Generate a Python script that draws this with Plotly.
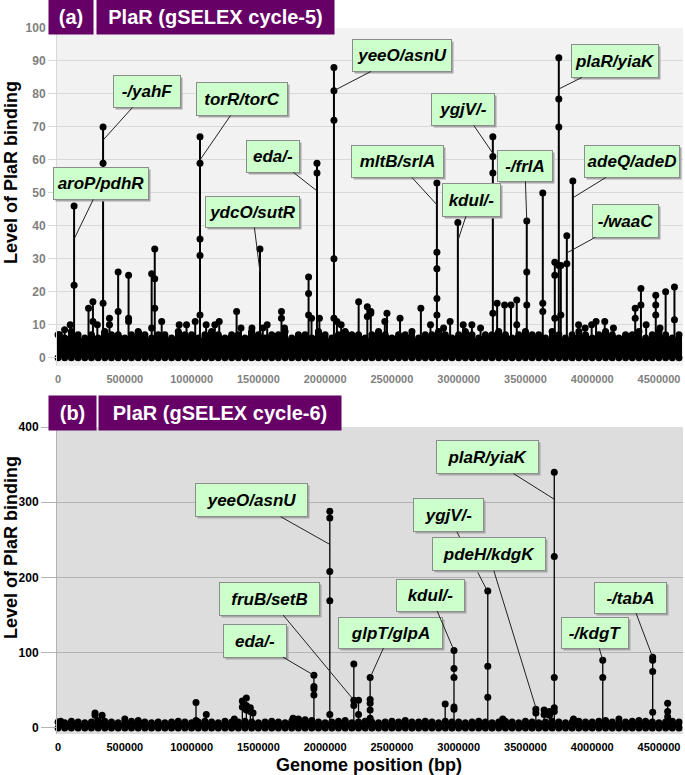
import plotly.graph_objects as go

# 50 kb genome bins (kb) for the low background signal
bins_kb = [0, 50, 100, 150, 200, 250, 300, 350, 400, 450,
           500, 550, 600, 650, 700, 750, 800, 850, 900, 950,
           1000, 1050, 1100, 1150, 1200, 1250, 1300, 1350, 1400, 1450,
           1500, 1550, 1600, 1650, 1700, 1750, 1800, 1850, 1900, 1950,
           2000, 2050, 2100, 2150, 2200, 2250, 2300, 2350, 2400, 2450,
           2500, 2550, 2600, 2650, 2700, 2750, 2800, 2850, 2900, 2950,
           3000, 3050, 3100, 3150, 3200, 3250, 3300, 3350, 3400, 3450,
           3500, 3550, 3600, 3650, 3700, 3750, 3800, 3850, 3900, 3950,
           4000, 4050, 4100, 4150, 4200, 4250, 4300, 4350, 4400, 4450,
           4500, 4550, 4600, 4650]

# (a) gSELEX cycle-5
a_band = [7, 6, 8, 7, 6, 7, 6, 8, 7, 7,
          6, 7, 8, 7, 6, 7, 7, 6, 8, 7,
          7, 6, 7, 8, 7, 6, 7, 7, 6, 8,
          7, 6, 7, 7, 8, 6, 7, 7, 6, 8,
          7, 6, 7, 8, 7, 7, 6, 7, 8, 7,
          6, 7, 7, 8, 6, 7, 7, 8, 7, 6,
          7, 8, 7, 6, 7, 7, 8, 7, 6, 7,
          8, 7, 7, 6, 8, 7, 6, 7, 8, 7,
          6, 7, 8, 7, 6, 7, 7, 8, 6, 7,
          8, 7, 6, 7]

a_pos = [10000, 49000, 91000, 120000, 120000, 228000, 261000, 261000, 294000,
         337000, 337000, 337000, 385000, 385000, 450000, 450000,
         528000, 528000, 528000, 701000, 701000, 724000, 724000, 724000,
         776000, 907000, 962000, 1027000,
         1063000, 1063000, 1063000, 1063000, 1063000,
         1109000, 1174000, 1207000, 1337000, 1370000, 1452000, 1512000,
         1533000, 1566000, 1673000, 1673000, 1696000,
         1876000, 1876000, 1876000, 1898000, 1939000, 1939000, 1957000,
         2066000, 2066000, 2066000, 2066000, 2066000,
         2088000, 2120000, 2251000, 2316000, 2316000, 2342000, 2342000,
         2447000, 2463000, 2561000, 2717000, 2789000,
         2837000, 2837000, 2837000, 2837000, 2837000,
         2887000, 2936000, 2994000, 3034000, 3099000, 3164000,
         3256000, 3256000, 3256000, 3256000,
         3288000, 3344000, 3392000, 3435000, 3435000,
         3510000, 3510000, 3510000, 3630000, 3630000, 3630000,
         3720000, 3720000, 3720000, 3750000, 3750000, 3750000, 3750000,
         3765000, 3765000, 3810000, 3810000, 3855000,
         3898000, 3947000, 3996000, 4029000, 4094000, 4159000,
         4322000, 4322000, 4365000, 4365000, 4404000,
         4476000, 4476000, 4476000, 4508000, 4550000, 4616000, 4616000]
a_val = [7, 8.5, 10, 46, 22, 15, 17, 11, 10,
         70, 59, 16.5, 12, 10, 26, 14,
         25, 12, 11, 25.5, 9, 33, 24, 15,
         11, 10, 10, 11,
         67, 59, 36, 31, 13,
         10, 10, 11, 14, 9, 9, 33,
         9, 10, 14, 12, 9,
         24.5, 19.5, 13, 12, 59, 56, 12,
         88, 81, 72, 30, 12,
         11, 10, 17, 15.5, 12.5, 14, 13.5,
         11, 13.5, 12, 15, 10,
         53, 32, 27, 18, 13,
         9, 11, 41, 10, 10, 9,
         67, 61, 56, 13.5,
         16.5, 16, 16, 17.5, 10,
         41.5, 26, 16, 50, 16.5, 14,
         29, 25, 12, 91, 78.5, 70, 28,
         28, 13, 37, 28.5, 53.6,
         10, 9, 10, 11, 11, 9,
         15, 12, 21, 16, 10,
         19, 16, 13, 9, 20, 21.5, 11.5]

a_genes = ["aroP/pdhR", "-/yahF", "torR/torC", "eda/-", "ydcO/sutR",
           "yeeO/asnU", "mltB/srlA", "kduI/-", "ygjV/-", "-/frlA",
           "plaR/yiaK", "adeQ/adeD", "-/waaC"]
a_gene_pos = [120000, 337000, 1063000, 1939000, 1512000,
              2066000, 2837000, 2994000, 3256000, 3510000,
              3750000, 3855000, 3810000]
a_gene_lvl = [36, 66, 60, 50.6, 26, 81, 46.4, 35.5, 62, 41.5, 81.5, 48.5, 31.8]

# (b) gSELEX cycle-6
b_band = [8, 7, 9, 8, 7, 8, 10, 9, 8, 7,
          8, 9, 10, 8, 7, 8, 7, 8, 9, 8,
          7, 8, 9, 8, 7, 9, 8, 8, 9, 8,
          7, 8, 9, 8, 7, 9, 10, 11, 10, 8,
          7, 8, 9, 8, 7, 8, 9, 8, 7, 8,
          9, 8, 7, 8, 8, 9, 8, 7, 9, 8,
          8, 7, 8, 9, 8, 7, 8, 9, 8, 7,
          9, 8, 7, 8, 9, 8, 7, 8, 9, 8,
          8, 9, 10, 8, 7, 8, 9, 10, 9, 8,
          7, 8, 9, 8]

b_pos = [20000, 277000, 277000, 330000, 500000, 1033000, 1033000, 1110000,
         1320000, 1380000, 1380000, 1410000, 1410000, 1410000,
         1440000, 1440000, 1460000, 1760000, 1800000,
         1916000, 1916000, 1916000, 1916000,
         2035000, 2035000, 2035000, 2035000, 2035000, 2150000,
         2215000, 2215000, 2215000, 2250000, 2250000,
         2337000, 2337000, 2337000, 2337000, 2337000, 2600000, 2899000,
         2965000, 2965000, 2965000, 2965000, 2965000,
         3218000, 3218000, 3218000, 3330000,
         3578000, 3578000, 3640000, 3640000, 3680000, 3680000,
         3716000, 3716000, 3716000, 3716000, 3716000, 3860000,
         4079000, 4079000, 4200000,
         4453000, 4453000, 4453000, 4453000, 4565000, 4565000, 4565000]
b_val = [9, 20, 17, 17, 12, 34, 10, 18,
         12, 36, 28, 40, 30, 24,
         27, 22, 20, 13, 12,
         70, 55, 52, 44,
         288, 279, 208, 169, 18, 10,
         85, 37, 30, 37, 18,
         67, 38, 33, 24, 13, 10, 32,
         103, 79, 67, 28, 25,
         182, 82, 41, 12,
         25, 20, 24, 18, 22, 17,
         340, 228, 67, 27, 22, 12,
         90, 67, 12,
         94, 90, 75, 21, 33, 22, 15]

b_genes = ["eda/-", "yeeO/asnU", "fruB/setB", "glpT/glpA", "kduI/-",
           "ygjV/-", "pdeH/kdgK", "plaR/yiaK", "-/kdgT", "-/tabA"]
b_gene_pos = [1916000, 2035000, 2215000, 2337000, 2965000,
              3218000, 3578000, 3716000, 4079000, 4453000]
b_gene_lvl = [70, 244, 37, 67, 103, 181, 27, 304, 90, 94]

# label box centres (bp, level) and sizes (px)
a_boxes = [(322000, 52.9, 94, 31), (666000, 80.8, 66, 31), (1377000, 78.5, 90, 32),
           (1609000, 61.1, 52, 31), (1456000, 44.2, 93, 30), (2575000, 91.7, 98, 31),
           (2541000, 59.5, 91, 31), (3095000, 47.9, 57, 32), (3031000, 75.3, 62, 31),
           (3496000, 58.2, 54, 30), (4169000, 90, 86, 32), (4296000, 59.5, 94, 31),
           (4248000, 41.5, 65, 32)]
b_boxes = [(1475000, 116, 62, 32), (1448000, 302.7, 111, 32), (1583000, 172, 99, 32),
           (2489000, 126.7, 103, 30), (2788000, 176.7, 67, 31), (2923000, 282.7, 69, 32),
           (3226000, 230.7, 112, 32), (3215000, 360, 101, 32), (4019000, 126.7, 66, 30),
           (4285000, 173, 71, 30)]

FONT = "Liberation Sans, Arial, sans-serif"
bins = [k * 1000 for k in bins_kb]


def stems(pos, val):
    top = {}
    for p, v in zip(pos, val):
        top[p] = max(v, top.get(p, 0))
    xs, ys = [], []
    for p, v in top.items():
        xs += [p, p, None]
        ys += [0, v, None]
    return xs, ys


fig = go.Figure()

for band, pos, val, xa, ya, lw, ms in [(a_band, a_pos, a_val, "x", "y", 2, 7),
                                       (b_band, b_pos, b_val, "x2", "y2", 1.3, 7)]:
    fig.add_trace(go.Bar(x=bins, y=band, width=50000, marker_color="black",
                         marker_line_width=0, xaxis=xa, yaxis=ya))
    fig.add_trace(go.Scatter(x=bins + bins, y=band + [0] * len(bins), mode="markers",
                             marker=dict(color="black", size=ms), cliponaxis=False,
                             xaxis=xa, yaxis=ya))
    sx, sy = stems(pos, val)
    fig.add_trace(go.Scatter(x=sx, y=sy, mode="lines", line=dict(color="black", width=lw),
                             xaxis=xa, yaxis=ya))
    fig.add_trace(go.Scatter(x=pos, y=val, mode="markers",
                             marker=dict(color="black", size=ms), cliponaxis=False,
                             xaxis=xa, yaxis=ya))

annotations = []


def px_x(px):
    return (px - 57) / 626


def px_y(py):
    return (734 - py) / 706


for genes, gpos, glvl, boxes, xr, yr in [(a_genes, a_gene_pos, a_gene_lvl, a_boxes, "x", "y"),
                                         (b_genes, b_gene_pos, b_gene_lvl, b_boxes, "x2", "y2")]:
    for g, p, lv, (bx, by, w, h) in zip(genes, gpos, glvl, boxes):
        annotations.append(dict(x=bx, y=by, xref=xr, yref=yr, text=" ", showarrow=False,
                                width=w, height=h, bgcolor="#a6a6a6", borderpad=0,
                                xshift=2, yshift=-2))
        annotations.append(dict(x=p, y=lv, xref=xr, yref=yr, ax=bx, ay=by, axref=xr, ayref=yr,
                                text="<b><i>%s</i></b>" % g, showarrow=True, arrowhead=0,
                                arrowwidth=1, arrowcolor="#222222", standoff=0,
                                bgcolor="#ccffcc", bordercolor="#8c8c8c", borderwidth=1,
                                borderpad=0, width=w, height=h,
                                font=dict(family=FONT, size=17, color="black")))

# panel title boxes
for txt, cx, cy, w in [("(a)", 71, 17, 44), ("PlaR (gSELEX cycle-5)", 215.5, 17, 237),
                       ("(b)", 72.5, 413, 47), ("PlaR (gSELEX cycle-6)", 220, 413, 242)]:
    annotations.append(dict(x=px_x(cx), y=px_y(cy), xref="paper", yref="paper",
                            text="<b>%s</b>" % txt, showarrow=False, xanchor="center",
                            yanchor="middle", width=w, height=34, borderpad=0,
                            bgcolor="#660066", font=dict(family=FONT, size=20, color="white")))

for cy in [173, 548]:
    annotations.append(dict(x=px_x(11), y=px_y(cy), xref="paper", yref="paper",
                            text="<b>Level of PlaR binding</b>", textangle=-90, showarrow=False,
                            xanchor="center", yanchor="middle",
                            font=dict(family=FONT, size=18, color="black")))

annotations.append(dict(x=px_x(369), y=px_y(765), xref="paper", yref="paper",
                        text="<b>Genome position (bp)</b>", showarrow=False,
                        xanchor="center", yanchor="middle",
                        font=dict(family=FONT, size=18, color="black")))

ticks = [0, 500000, 1000000, 1500000, 2000000, 2500000, 3000000, 3500000, 4000000, 4500000]
xcommon = dict(range=[-8000, 4680000], tickvals=ticks, tickformat="d", showgrid=False,
               zeroline=False, ticks="", ticklabelstandoff=5, automargin=False)

fig.update_layout(
    width=685, height=775,
    margin=dict(l=57, r=2, t=28, b=41, autoexpand=False),
    plot_bgcolor="white", paper_bgcolor="white",
    showlegend=False, bargap=0,
    font=dict(family=FONT),
    xaxis=dict(anchor="y", domain=[0, 1],
               tickfont=dict(family=FONT, size=11, color="#7f7f7f", weight="bold"), **xcommon),
    yaxis=dict(anchor="x", domain=[0.5212, 1], range=[-2.5, 100], dtick=10, automargin=False,
               gridcolor="#d9d9d9", showline=True, linecolor="#d9d9d9", zeroline=False,
               ticks="outside", ticklen=8, tickcolor="#d9d9d9",
               tickfont=dict(family=FONT, size=12, color="#7f7f7f", weight="bold")),
    xaxis2=dict(anchor="y2", domain=[0, 1],
                tickfont=dict(family=FONT, size=11, color="black", weight="bold"), **xcommon),
    yaxis2=dict(anchor="x2", domain=[0, 0.4348], range=[-8, 400], dtick=100, automargin=False,
                gridcolor="#b3b3b3", showline=True, linecolor="#b3b3b3", zeroline=False,
                ticks="outside", ticklen=15, tickcolor="#b3b3b3",
                tickfont=dict(family=FONT, size=12, color="black", weight="bold")),
    shapes=[
        dict(type="rect", xref="x domain", yref="y domain", x0=0, x1=1, y0=0, y1=1,
             fillcolor="#f2f2f2", line_width=0, layer="below"),
        dict(type="rect", xref="x2 domain", yref="y2 domain", x0=0, x1=1, y0=0, y1=1,
             fillcolor="#dddddd", line_width=0, layer="below"),
    ],
    annotations=annotations,
)

# page body has a default 8px margin; drop it so the figure sits at the window corner
fig.write_html("out.html", config={"displayModeBar": False},
               post_script="document.body.style.margin='0px';")
